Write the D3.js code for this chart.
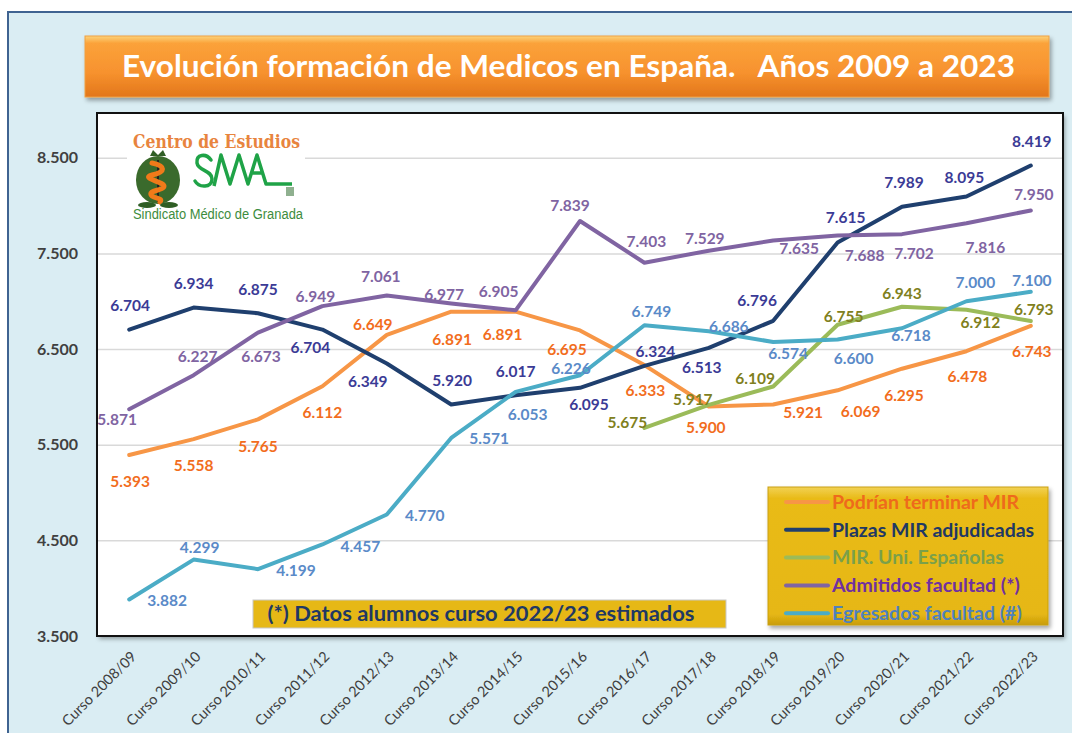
<!DOCTYPE html>
<html>
<head>
<meta charset="utf-8">
<script src="https://cdn.jsdelivr.net/npm/d3@7"></script>
<style>
  body { margin: 0; background: #ffffff; }
  #chart { width: 1072px; height: 733px; }
</style>
</head>
<body>
<div id="chart"></div>
<script>
/* DATA */
var courses = ["Curso 2008/09", "Curso 2009/10", "Curso 2010/11", "Curso 2011/12", "Curso 2012/13",
    "Curso 2013/14", "Curso 2014/15", "Curso 2015/16", "Curso 2016/17", "Curso 2017/18",
    "Curso 2018/19", "Curso 2019/20", "Curso 2020/21", "Curso 2021/22", "Curso 2022/23"];

var podrianTerminar = [5393, 5558, 5765, 6112, 6649, 6891, 6891, 6695, 6333, 5900, 5921, 6069, 6295, 6478, 6743];
var plazasMIR = [6704, 6934, 6875, 6704, 6349, 5920, 6017, 6095, 6324, 6513, 6796, 7615, 7989, 8095, 8419];
var mirUniEsp = [null, null, null, null, null, null, null, null, 5675, 5917, 6109, 6755, 6943, 6912, 6793];
var admitidos = [5871, 6227, 6673, 6949, 7061, 6977, 6905, 7839, 7403, 7529, 7635, 7688, 7702, 7816, 7950];
var egresados = [3882, 4299, 4199, 4457, 4770, 5571, 6053, 6226, 6749, 6686, 6574, 6600, 6718, 7000, 7100];

var yTicks = [3500, 4500, 5500, 6500, 7500, 8500];

var seriesNames = ["Podrían terminar MIR", "Plazas MIR adjudicadas", "MIR. Uni. Españolas",
    "Admitidos facultad (*)", "Egresados facultad (#)"];

/* label nudges relative to each point, as placed by hand in the original */
var offPodrian = [[1,27],[0,26],[0,27],[0,26],[-14,-10],[1,28],[-13,23],[-13,19],[1,26],[-3,21],[30,8],[23,21],[2,27],[1,25],[1,26]];
var offPlazas = [[1,-24],[0,-24],[0,-24],[-12,18],[-19,18],[1,-24],[0,-24],[9,17],[11,-14],[-7,20],[-16,-20],[8,-25],[2,-24],[-2,-19],[1,-24]];
var offMirUni = [null,null,null,null,null,null,null,null,[-17,-5],[-16,-5],[-18,-8],[6,-8],[0,-13],[14,13],[3,-11]];
var offAdmitidos = [[-12,10],[4,-19],[3,24],[-7,-10],[-6,-19],[-7,-9],[-17,-19],[-10,-15],[2,-21],[-4,-12],[26,8],[27,20],[12,19],[19,24],[3,-16]];
var offEgresados = [[38,1],[6,-12],[38,1],[38,2],[38,1],[38,1],[12,23],[-9,-7],[7,-14],[20,-5],[15,12],[16,19],[9,7],[9,-19],[1,-11]];

var series = [
    {name: seriesNames[0], values: podrianTerminar, offs: offPodrian, line: "#f79646", label: "#f26d1d", legendText: "#ee6a1c"},
    {name: seriesNames[1], values: plazasMIR, offs: offPlazas, line: "#1f3f6e", label: "#3b3b96", legendText: "#1f3864"},
    {name: seriesNames[2], values: mirUniEsp, offs: offMirUni, line: "#9bbb59", label: "#7f8020", legendText: "#7aa04a"},
    {name: seriesNames[3], values: admitidos, offs: offAdmitidos, line: "#8064a2", label: "#8064a2", legendText: "#7030a0"},
    {name: seriesNames[4], values: egresados, offs: offEgresados, line: "#4bacc6", label: "#5a8ac8", legendText: "#4f81bd"}
];

var fmt = d3.formatLocale({decimal: ",", thousands: ".", grouping: [3], currency: ["", "€"]}).format(",");

/* SVG CANVAS */
var width = 1072, height = 733;
var svg = d3.select("#chart").append("svg")
    .attr("width", width)
    .attr("height", height)
    .attr("font-family", "Lato, 'Open Sans', sans-serif");

var defs = svg.append("defs");

var tg = defs.append("linearGradient").attr("id", "titleGrad").attr("x1", 0).attr("y1", 0).attr("x2", 0).attr("y2", 1);
tg.append("stop").attr("offset", "0%").attr("stop-color", "#fcd37a");
tg.append("stop").attr("offset", "12%").attr("stop-color", "#fba23a");
tg.append("stop").attr("offset", "60%").attr("stop-color", "#f7922e");
tg.append("stop").attr("offset", "100%").attr("stop-color", "#e2761a");

var lg = defs.append("linearGradient").attr("id", "legGrad").attr("x1", 0).attr("y1", 0).attr("x2", 0).attr("y2", 1);
lg.append("stop").attr("offset", "0%").attr("stop-color", "#f2d255");
lg.append("stop").attr("offset", "8%").attr("stop-color", "#e9bb18");
lg.append("stop").attr("offset", "92%").attr("stop-color", "#e6b714");
lg.append("stop").attr("offset", "100%").attr("stop-color", "#c99c0c");

var sh = defs.append("filter").attr("id", "shadow").attr("x", "-5%").attr("y", "-20%").attr("width", "110%").attr("height", "150%");
sh.append("feDropShadow").attr("dx", 2).attr("dy", 3).attr("stdDeviation", 2).attr("flood-color", "#000").attr("flood-opacity", 0.35);

/* OUTER BACKGROUND */
svg.append("rect")
    .attr("x", 8).attr("y", 12)
    .attr("width", width + 10).attr("height", height + 10)
    .attr("fill", "#daedf3")
    .attr("stroke", "#3f6391")
    .attr("stroke-width", 2);

/* TITLE */
svg.append("rect")
    .attr("x", 85).attr("y", 36)
    .attr("width", 964).attr("height", 61)
    .attr("fill", "url(#titleGrad)")
    .attr("stroke", "#f0a040")
    .attr("stroke-width", 1)
    .attr("filter", "url(#shadow)");

svg.append("text")
    .attr("x", 122).attr("y", 77)
    .attr("textLength", 893)
    .attr("lengthAdjust", "spacingAndGlyphs")
    .style("white-space", "pre")
    .attr("fill", "#ffffff")
    .attr("font-weight", "bold")
    .attr("font-size", 30)
    .text("Evolución formación de Medicos en España.   Años 2009 a 2023");

/* PLOT AREA */
var plot = {left: 97, right: 1063, top: 113, bottom: 636};

svg.append("rect")
    .attr("x", plot.left).attr("y", plot.top)
    .attr("width", plot.right - plot.left).attr("height", plot.bottom - plot.top)
    .attr("fill", "#ffffff")
    .attr("filter", "url(#shadow)");

var x = d3.scalePoint()
    .domain(courses)
    .range([plot.left, plot.right])
    .padding(0.5);

var y = d3.scaleLinear()
    .domain([3500, 9000])
    .range([plot.bottom, 110]);

/* gridlines */
svg.append("g")
    .attr("transform", "translate(" + plot.left + ",0)")
    .call(d3.axisLeft(y).tickValues(yTicks.slice(1)).tickSize(-(plot.right - plot.left)).tickFormat(""))
    .call(function(g) { g.select(".domain").remove(); })
    .selectAll("line")
        .attr("stroke", "#d9d9d9")
        .attr("stroke-width", 1.5);

/* LOGO */
var logo = svg.append("g");
logo.append("rect").attr("x", 127).attr("y", 127).attr("width", 178).attr("height", 98).attr("fill", "#ffffff");
logo.append("text")
    .attr("x", 133).attr("y", 148)
    .attr("textLength", 167).attr("lengthAdjust", "spacingAndGlyphs")
    .attr("font-family", "'DejaVu Serif', 'Liberation Serif', serif")
    .attr("font-weight", "bold").attr("font-size", 18)
    .attr("fill", "#e8843e")
    .text("Centro de Estudios");
// pomegranate
logo.append("path")
    .attr("d", "M150,156 L153,150 L158,155 L163,150 L166,156 Z")
    .attr("fill", "#2f5e25");
logo.append("ellipse").attr("cx", 158).attr("cy", 180).attr("rx", 22).attr("ry", 24).attr("fill", "#3a6a2c");
logo.append("line").attr("x1", 158).attr("y1", 160).attr("x2", 158).attr("y2", 202).attr("stroke", "#222").attr("stroke-width", 2);
logo.append("path")
    .attr("d", "M152,163 C166,166 166,172 152,175 C140,178 164,182 164,186 C164,191 146,190 152,196 C156,199 163,198 160,202")
    .attr("fill", "none").attr("stroke", "#f07a1a").attr("stroke-width", 5).attr("stroke-linecap", "round");
logo.append("ellipse").attr("cx", 147).attr("cy", 205).attr("rx", 9).attr("ry", 3).attr("fill", "#2f5e25");
logo.append("ellipse").attr("cx", 169).attr("cy", 205).attr("rx", 9).attr("ry", 3).attr("fill", "#2f5e25");
// SMA
logo.append("path")
    .attr("d", "M211,160 C206,153 196,154 197,163 C198,171 212,170 212,179 C212,188 199,188 195,181")
    .attr("fill", "none").attr("stroke", "#1fa347").attr("stroke-width", 3.5).attr("stroke-linecap", "round");
logo.append("path")
    .attr("d", "M214,186 L221,155 L230,184 L239,155 L248,184 L257,155 L266,184 L292,184 M251,173 L263,173")
    .attr("fill", "none").attr("stroke", "#1fa347").attr("stroke-width", 3.5).attr("stroke-linejoin", "round");
logo.append("rect").attr("x", 286).attr("y", 187).attr("width", 8).attr("height", 9).attr("fill", "#8fb08f");
logo.append("text")
    .attr("x", 133).attr("y", 219)
    .attr("textLength", 170).attr("lengthAdjust", "spacingAndGlyphs")
    .attr("font-family", "'Liberation Sans Narrow', 'Liberation Sans', Arial, sans-serif")
    .attr("font-size", 14).attr("fill", "#3d8c3d")
    .text("Sindicato Médico de Granada");

/* Y AXIS LABELS */
svg.append("g")
    .attr("transform", "translate(" + plot.left + ",0)")
    .call(d3.axisLeft(y).tickValues(yTicks).tickSize(0).tickPadding(19).tickFormat(fmt))
    .call(function(g) { g.select(".domain").remove(); })
    .selectAll("text")
        .attr("font-family", "Lato, sans-serif")
        .attr("font-size", 16)
        .attr("font-weight", "bold")
        .attr("fill", "#404040");

/* X AXIS LABELS */
svg.append("g")
    .attr("transform", "translate(0," + plot.bottom + ")")
    .call(d3.axisBottom(x).tickSize(0).tickFormat(function(d) { return d; }))
    .call(function(g) { g.select(".domain").remove(); })
    .selectAll("text")
        .attr("font-family", "Lato, sans-serif")
        .attr("font-size", 14.5)
        .attr("fill", "#404040")
        .attr("text-anchor", "end")
        .attr("dy", "0.35em")
        .attr("y", 0)
        .attr("transform", "translate(4,18) rotate(-45)");

/* LINES */
var line = d3.line()
    .defined(function(d) { return d.v !== null; })
    .x(function(d) { return x(d.c); })
    .y(function(d) { return y(d.v); });

series.forEach(function(s) {
    var pts = courses.map(function(c, i) { return {c: c, v: s.values[i]}; });
    svg.append("path")
        .datum(pts)
        .attr("fill", "none")
        .attr("stroke", s.line)
        .attr("stroke-width", 4)
        .attr("stroke-linejoin", "round")
        .attr("stroke-linecap", "round")
        .attr("d", line);
});

/* DATA LABELS */
series.forEach(function(s) {
    var pts = [];
    courses.forEach(function(c, i) {
        if (s.values[i] !== null) pts.push({c: c, v: s.values[i], off: s.offs[i]});
    });
    svg.append("g").selectAll("text")
        .data(pts)
        .enter()
        .append("text")
            .attr("x", function(d) { return x(d.c) + d.off[0]; })
            .attr("y", function(d) { return y(d.v) + d.off[1]; })
            .attr("dy", "0.35em")
            .attr("text-anchor", "middle")
            .attr("font-size", 15.5)
            .attr("font-weight", "bold")
            .attr("fill", s.label)
            .text(function(d) { return fmt(d.v); });
});

/* NOTE BOX */
svg.append("rect")
    .attr("x", 253).attr("y", 600)
    .attr("width", 473).attr("height", 28)
    .attr("fill", "#e6b816")
    .attr("stroke", "#c8c8c8")
    .attr("stroke-width", 1);
svg.append("text")
    .attr("x", 481).attr("y", 614)
    .attr("dy", "0.35em")
    .attr("text-anchor", "middle")
    .attr("textLength", 427)
    .attr("lengthAdjust", "spacingAndGlyphs")
    .attr("font-size", 21)
    .attr("font-weight", "bold")
    .attr("fill", "#1f3864")
    .text("(*) Datos alumnos curso 2022/23 estimados");

/* LEGEND */
var legend = svg.append("g");
legend.append("rect")
    .attr("x", 768).attr("y", 487)
    .attr("width", 280).attr("height", 138)
    .attr("fill", "url(#legGrad)")
    .attr("stroke", "#c9a00e")
    .attr("filter", "url(#shadow)");

var legRows = legend.selectAll("g.row")
    .data(series)
    .enter()
    .append("g")
        .attr("class", "row")
        .attr("transform", function(d, i) { return "translate(0," + (502 + i * 27.8) + ")"; });

legRows.append("line")
    .attr("x1", 786).attr("x2", 828)
    .attr("stroke", function(d) { return d.line; })
    .attr("stroke-width", 4)
    .attr("stroke-linecap", "round");

legRows.append("text")
    .attr("x", 832)
    .attr("dy", "0.35em")
    .attr("font-size", 19.5)
    .attr("font-weight", "bold")
    .attr("fill", function(d) { return d.legendText; })
    .text(function(d) { return d.name; });

/* PLOT FRAME */
svg.append("rect")
    .attr("x", plot.left).attr("y", plot.top)
    .attr("width", plot.right - plot.left).attr("height", plot.bottom - plot.top)
    .attr("fill", "none")
    .attr("stroke", "#111")
    .attr("stroke-width", 2);
</script>
</body>
</html>
